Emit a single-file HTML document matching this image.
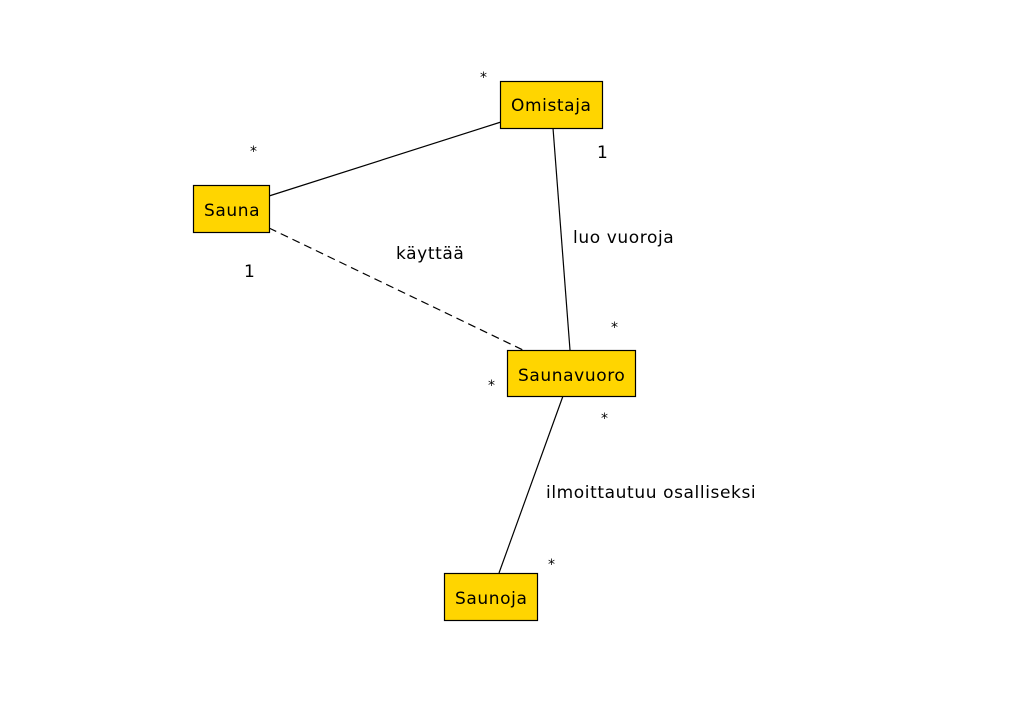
<!DOCTYPE html>
<html><head><style>
body{margin:0;width:1012px;height:700px;background:#fff;overflow:hidden}
svg text{font-family:"DejaVu Sans","Liberation Sans",sans-serif;font-size:17px;fill:#000;letter-spacing:0.6px}
.b{fill:#FFD500;stroke:#000;stroke-width:1.2}
.s{font-size:14px}
</style></head><body>
<svg width="1012" height="700" xmlns="http://www.w3.org/2000/svg">
<line x1="269" y1="196" x2="501" y2="122" stroke="#000" stroke-width="1.2"/>
<line x1="269" y1="228" x2="523" y2="350" stroke="#000" stroke-width="1.2" stroke-dasharray="8,5"/>
<line x1="553" y1="128" x2="570" y2="350" stroke="#000" stroke-width="1.2"/>
<line x1="563" y1="396" x2="499" y2="573" stroke="#000" stroke-width="1.2"/>
<rect class="b" x="500.5" y="81.5" width="102" height="47"/>
<rect class="b" x="193.5" y="185.5" width="76" height="47"/>
<rect class="b" x="507.5" y="350.5" width="128" height="46"/>
<rect class="b" x="444.5" y="573.5" width="93" height="47"/>
<text x="511" y="111">Omistaja</text>
<text x="204" y="216">Sauna</text>
<text x="518" y="381">Saunavuoro</text>
<text x="455" y="604">Saunoja</text>
<text x="396" y="259">käyttää</text>
<text x="573" y="243">luo vuoroja</text>
<text x="546" y="498">ilmoittautuu osalliseksi</text>
<text x="597" y="158">1</text>
<text x="244" y="277">1</text>
<text class="s" x="480" y="82">*</text>
<text class="s" x="250" y="156">*</text>
<text class="s" x="611" y="332">*</text>
<text class="s" x="488" y="390">*</text>
<text class="s" x="601" y="423">*</text>
<text class="s" x="548" y="569">*</text>
</svg>
</body></html>
